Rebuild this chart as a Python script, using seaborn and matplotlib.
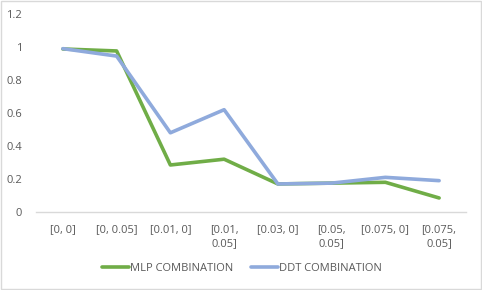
import pandas as pd
import matplotlib
matplotlib.use("Agg")
import matplotlib.pyplot as plt
import seaborn as sns

categories = ["[0, 0]", "[0, 0.05]", "[0.01, 0]", "[0.01,\n0.05]",
              "[0.03, 0]", "[0.05,\n0.05]", "[0.075, 0]", "[0.075,\n0.05]"]
mlp = [0.988, 0.976, 0.285, 0.32, 0.17, 0.175, 0.18, 0.085]
ddt = [0.99, 0.945, 0.48, 0.62, 0.17, 0.175, 0.21, 0.19]

df = pd.DataFrame({
    "cat": categories * 2,
    "value": mlp + ddt,
    "series": ["MLP COMBINATION"] * 8 + ["DDT COMBINATION"] * 8,
})

sns.set_style("white")
plt.rcParams["font.family"] = ["Open Sans", "DejaVu Sans"]
txt = "#595959"

fig = plt.figure(figsize=(4.82, 2.9), dpi=100)
ax = fig.add_axes([36 / 482, 1 - 212 / 290, 430 / 482, 198 / 290])

sns.lineplot(data=df, x="cat", y="value", hue="series", sort=False,
             palette={"MLP COMBINATION": "#70AD47", "DDT COMBINATION": "#8FAADC"},
             linewidth=2.6, ax=ax)

ax.set_xlim(-0.5, 7.5)
ax.set_ylim(0, 1.2)
ax.set_yticks([0, 0.2, 0.4, 0.6, 0.8, 1, 1.2])
ax.set_yticklabels(["0", "0.2", "0.4", "0.6", "0.8", "1", "1.2"])
ax.set_xlabel("")
ax.set_ylabel("")
ax.tick_params(axis="both", colors=txt, labelsize=8, length=0)
ax.tick_params(axis="x", pad=9)
ax.tick_params(axis="y", pad=10)
for lab in ax.get_xticklabels():
    lab.set_linespacing(1.3)
for s in ["top", "right", "left"]:
    ax.spines[s].set_visible(False)
ax.spines["bottom"].set_color("#D9D9D9")
ax.spines["bottom"].set_linewidth(1)

leg = ax.legend(loc="center", bbox_to_anchor=(0.479, -0.283),
                ncol=2, frameon=False, fontsize=8, handlelength=2.4,
                handletextpad=0.1, columnspacing=1.6)
for t in leg.get_texts():
    t.set_color(txt)
for h in leg.get_lines():
    h.set_linewidth(2.6)

fig.patches.append(plt.Rectangle((0.002, 0.003), 0.995, 0.993, transform=fig.transFigure,
                                 fill=False, edgecolor="#D9D9D9", linewidth=1))

fig.savefig("out.png", dpi=100)
